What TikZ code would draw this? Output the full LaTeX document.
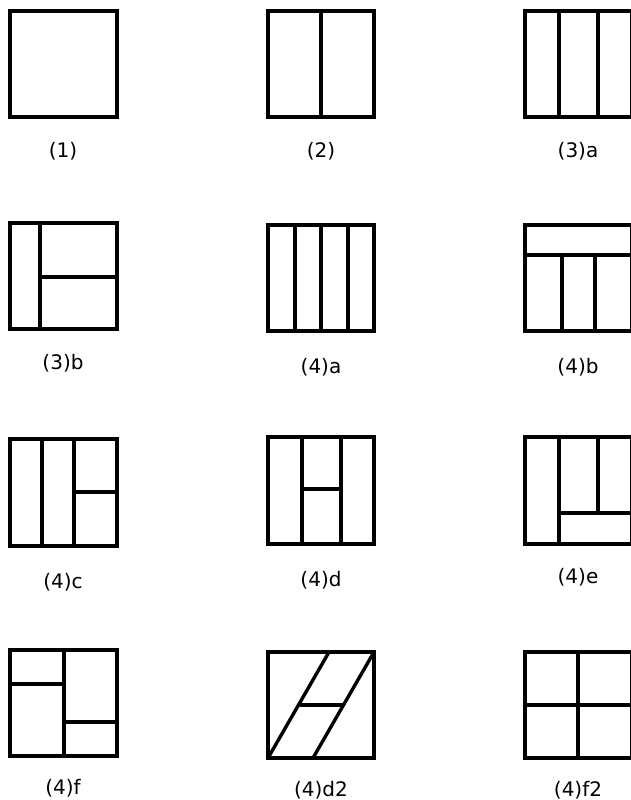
\documentclass[tikz,border=0pt]{standalone}
\usepackage{fontspec}
\setmainfont{DejaVu Sans}
\begin{document}
\begin{tikzpicture}[x=1pt,y=-1pt,
  frame/.style={line width=3.7pt,line join=miter},
  part/.style={line width=3.4pt},
  lab/.style={font=\fontsize{20}{24}\selectfont,anchor=center,inner sep=0pt}]
\useasboundingbox (0,0) rectangle (631,800);
% (1)
\draw[frame] (10,11) rectangle (117,117);
\node[lab] (l1) at (63,151) {(1)};
% (2)
\draw[frame] (268,11) rectangle (374,117);
\draw[part] (321,11) -- (321,117);
\node[lab] (l2) at (321,151) {(2)};
% (3)a
\draw[frame] (525,11) rectangle (632,117);
\draw[part] (559,11) -- (559,117);
\draw[part] (598,11) -- (598,117);
\node[lab] (l3a) at (578,151) {(3)a};
% (3)b
\draw[frame] (10,223) rectangle (117,329);
\draw[part] (40,223) -- (40,329);
\draw[part] (40,277) -- (117,277);
\node[lab] (l3b) at (63,363) {(3)b};
% (4)a
\draw[frame] (268,225) rectangle (374,331);
\draw[part] (295,225) -- (295,331);
\draw[part] (321,225) -- (321,331);
\draw[part] (348,225) -- (348,331);
\node[lab] (l4a) at (321,367) {(4)a};
% (4)b
\draw[frame] (525,225) rectangle (632,331);
\draw[part] (525,255) -- (632,255);
\draw[part] (562,255) -- (562,331);
\draw[part] (595,255) -- (595,331);
\node[lab] (l4b) at (578,367) {(4)b};
% (4)c
\draw[frame] (10,439) rectangle (117,546);
\draw[part] (42,439) -- (42,546);
\draw[part] (74,439) -- (74,546);
\draw[part] (74,492) -- (117,492);
\node[lab] (l4c) at (63,582) {(4)c};
% (4)d
\draw[frame] (268,437) rectangle (374,544);
\draw[part] (302,437) -- (302,544);
\draw[part] (341,437) -- (341,544);
\draw[part] (302,489) -- (341,489);
\node[lab] (l4d) at (321,580) {(4)d};
% (4)e
\draw[frame] (525,437) rectangle (632,544);
\draw[part] (559,437) -- (559,544);
\draw[part] (598,437) -- (598,513);
\draw[part] (559,513) -- (632,513);
\node[lab] (l4e) at (578,577) {(4)e};
% (4)f
\draw[frame] (10,650) rectangle (117,756);
\draw[part] (64,650) -- (64,756);
\draw[part] (10,684) -- (64,684);
\draw[part] (64,722) -- (117,722);
\node[lab] (l4f) at (63,788) {(4)f};
% (4)d2
\draw[frame] (268,652) rectangle (374,758);
\draw[part] (268,758) -- (329,652);
\draw[part] (313,758) -- (374,652);
\draw[part] (299.5,705) -- (343.5,705);
\node[lab] (l4d2) at (321,790) {(4)d2};
% (4)f2
\draw[frame] (525,652) rectangle (632,758);
\draw[part] (578,652) -- (578,758);
\draw[part] (525,705) -- (632,705);
\node[lab] (l4f2) at (578,790) {(4)f2};
\end{tikzpicture}
\end{document}
